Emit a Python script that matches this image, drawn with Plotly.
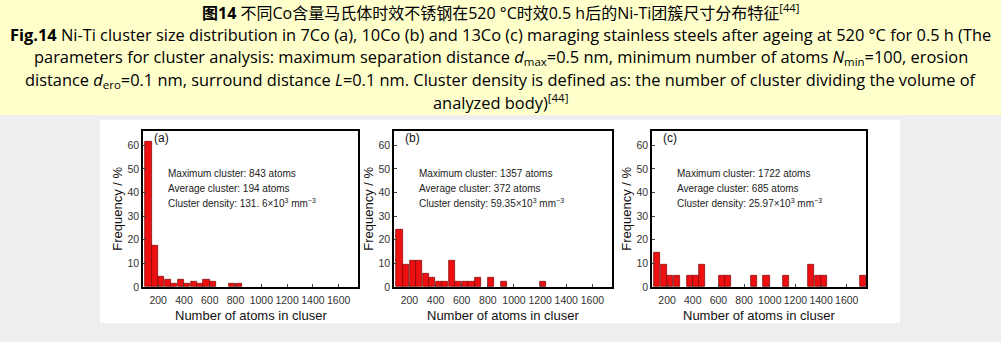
import plotly.graph_objects as go

W, H = 1001, 342

# ---------------- data ----------------
panel_labels = ["(a)", "(b)", "(c)"]

a_bins = [100, 150, 200, 250, 300, 350, 400, 450, 500, 550, 600, 750, 800]
a_freq = [61.5, 17.6, 4.2, 3.0, 1.2, 3.0, 1.2, 2.1, 1.2, 3.0, 2.1, 1.2, 1.2]

b_bins = [100, 150, 200, 250, 300, 350, 400, 450, 500, 550, 600, 650, 700, 800, 900, 1200]
b_freq = [24.4, 9.3, 11.2, 11.2, 5.5, 4.0, 2.0, 2.0, 11.2, 2.0, 2.0, 2.0, 4.0, 4.0, 2.0, 2.0]

c_bins = [100, 150, 200, 250, 350, 400, 450, 600, 650, 850, 950, 1100, 1300, 1350, 1400, 1700]
c_freq = [14.3, 9.5, 4.8, 4.8, 4.8, 4.8, 9.5, 4.8, 4.8, 4.8, 4.8, 4.8, 9.5, 4.8, 4.8, 4.8]

a_info = ["Maximum cluster: 843 atoms", "Average cluster: 194 atoms",
          "Cluster density: 131. 6×10<sup>3</sup> mm<sup>−3</sup>"]
b_info = ["Maximum cluster: 1357 atoms", "Average cluster: 372 atoms",
          "Cluster density: 59.35×10<sup>3</sup> mm<sup>−3</sup>"]
c_info = ["Maximum cluster: 1722 atoms", "Average cluster: 685 atoms",
          "Cluster density: 25.97×10<sup>3</sup> mm<sup>−3</sup>"]

x_ticks = [200, 400, 600, 800, 1000, 1200, 1400, 1600]
y_ticks = [0, 10, 20, 30, 40, 50, 60]
x_title = "Number of atoms in cluser"
y_title = "Frequency / %"

caption_lines = [
    "<b>图14</b> 不同Co含量马氏体时效不锈钢在520 °C时效0.5 h后的Ni-Ti团簇尺寸分布特征<sup>[44]</sup>",
    "<b>Fig.14</b> Ni-Ti cluster size distribution in 7Co (a), 10Co (b) and 13Co (c) maraging stainless steels after ageing at 520 °C for 0.5 h (The",
    "parameters for cluster analysis: maximum separation distance <i>d</i><sub>max</sub>=0.5 nm, minimum number of atoms <i>N</i><sub>min</sub>=100, erosion",
    "distance <i>d</i><sub>ero</sub>=0.1 nm, surround distance <i>L</i>=0.1 nm. Cluster density is defined as: the number of cluster dividing the volume of",
    "analyzed body)<sup>[44]</sup>",
]

# ---------------- layout helpers ----------------
def px(x):
    return x / W

def py(y):
    return 1 - y / H

panels = [  # left, right, top, bottom in pixels
    (143, 358, 133, 292),
    (394, 612, 133, 292),
    (652, 866, 133, 292),
]
series = [(a_bins, a_freq, a_info), (b_bins, b_freq, b_info), (c_bins, c_freq, c_info)]

fig = go.Figure()
annotations = []
shapes = [
    dict(type="rect", xref="paper", yref="paper", x0=0, x1=1, y0=py(117), y1=1,
         fillcolor="#FFFFCC", line=dict(width=0), layer="below"),
    dict(type="rect", xref="paper", yref="paper", x0=px(100), x1=px(900), y0=py(329), y1=py(122),
         fillcolor="#FFFFFF", line=dict(width=0), layer="below"),
]

axis_font = dict(family="Liberation Sans, Arial, sans-serif", size=10.5, color="#333333")

for i, ((l, r, t, b), (bins, freq, info)) in enumerate(zip(panels, series)):
    n = "" if i == 0 else str(i + 1)
    fig.add_trace(go.Bar(
        x=bins, y=freq, xaxis="x" + n, yaxis="y" + n,
        offset=1, width=47,
        marker=dict(color="#EE1010", line=dict(color="#7A0000", width=0.7)),
        showlegend=False,
    ))
    xa = dict(domain=[px(l), px(r)], range=[82, 1750], anchor="y" + n,
              tickvals=x_ticks, ticks="inside", ticklen=3, tickcolor="#444",
              ticklabelstandoff=3,
              showline=True, mirror=True, linecolor="black", linewidth=1.5,
              showgrid=False, zeroline=False, tickfont=axis_font, fixedrange=True)
    ya = dict(domain=[py(b), py(t)], range=[0, 66.2], anchor="x" + n,
              tickvals=y_ticks, ticks="inside", ticklen=3, tickcolor="#444",
              showline=True, mirror=True, linecolor="black", linewidth=1.5,
              showgrid=False, zeroline=False, tickfont=axis_font, fixedrange=True)
    fig.update_layout(**{"xaxis" + n: xa, "yaxis" + n: ya})

    # panel letter
    annotations.append(dict(x=px(l + 9), y=py(140), xref="paper", yref="paper",
                            text=panel_labels[i], showarrow=False, xanchor="left", yanchor="middle",
                            font=dict(family="Liberation Sans, Arial, sans-serif", size=12, color="#111")))
    # info text
    for k, line in enumerate(info):
        annotations.append(dict(x=px(l + 23), y=py(177 + 14.7 * k), xref="paper", yref="paper",
                                text=line, showarrow=False, xanchor="left", yanchor="middle",
                                font=dict(family="Liberation Sans, Arial, sans-serif", size=10, color="#222")))
    # x title
    annotations.append(dict(x=px((l + r) / 2), y=py(321), xref="paper", yref="paper",
                            text=x_title, showarrow=False, xanchor="center", yanchor="middle",
                            font=dict(family="Liberation Sans, Arial, sans-serif", size=13, color="#111")))
    # y title
    annotations.append(dict(x=px(l - 25), y=py((t + b) / 2), xref="paper", yref="paper",
                            text=y_title, showarrow=False, textangle=-90,
                            xanchor="center", yanchor="middle",
                            font=dict(family="Liberation Sans, Arial, sans-serif", size=13, color="#111")))

cap_y = [12, 35, 58, 81, 104]
for k, line in enumerate(caption_lines):
    annotations.append(dict(x=0.5, y=py(cap_y[k]), xref="paper", yref="paper",
                            text=line, showarrow=False, xanchor="center", yanchor="middle",
                            font=dict(family="Open Sans, Noto Sans CJK SC, sans-serif",
                                      size=16.4 if k else 16, color="#000")))

fig.update_layout(
    width=W, height=H, margin=dict(l=0, r=0, t=0, b=0),
    paper_bgcolor="#EEEEEE", plot_bgcolor="#FFFFFF",
    shapes=shapes, annotations=annotations, bargap=0,
)

fig.write_html("out.html", config={"displayModeBar": False})
